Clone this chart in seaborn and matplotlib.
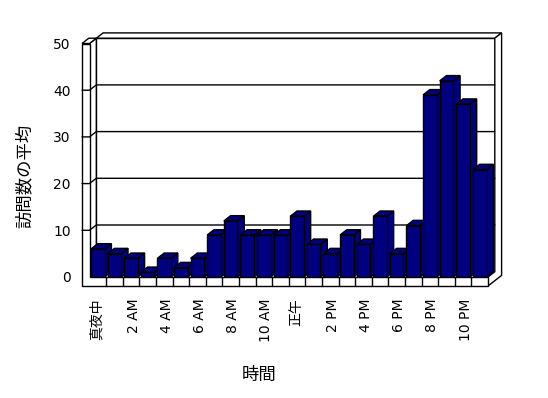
import matplotlib
matplotlib.use("Agg")
import matplotlib.pyplot as plt
import seaborn as sns
import pandas as pd
from matplotlib.patches import Polygon, Rectangle
from matplotlib.lines import Line2D
from matplotlib.transforms import ScaledTranslation

# ---- data ----
hours = ["真夜中", "1 AM", "2 AM", "3 AM", "4 AM", "5 AM", "6 AM", "7 AM",
         "8 AM", "9 AM", "10 AM", "11 AM", "正午", "1 PM", "2 PM", "3 PM",
         "4 PM", "5 PM", "6 PM", "7 PM", "8 PM", "9 PM", "10 PM", "11 PM"]
visits = [6, 5, 4, 1, 4, 2, 4, 9, 12, 9, 9, 9, 13, 7, 5, 9, 7, 13, 5, 11, 39, 42, 37, 23]
tick_labels = ["真夜中", "2 AM", "4 AM", "6 AM", "8 AM", "10 AM",
               "正午", "2 PM", "4 PM", "6 PM", "8 PM", "10 PM"]
y_ticks = [0, 10, 20, 30, 40, 50]
x_title = "時間"
y_title = "訪問数の平均"

sns.set_theme(style="white")
plt.rcParams["font.family"] = ["DejaVu Sans", "Noto Sans CJK JP"]

W_PX, H_PX = 548, 398
fig = plt.figure(figsize=(W_PX / 100, H_PX / 100), dpi=100)
fig.patch.set_facecolor("white")
ax_l, ax_r, ax_b, ax_t = 89.5, 488.0, 277.0, 43.5
ax = fig.add_axes([ax_l / W_PX, 1 - ax_b / H_PX, (ax_r - ax_l) / W_PX, (ax_b - ax_t) / H_PX])

df = pd.DataFrame({"hour": hours, "visits": visits})
NAVY = "#000080"
sns.barplot(data=df, x="hour", y="visits", order=hours, color=NAVY, saturation=1,
            width=0.82, edgecolor="black", linewidth=1, ax=ax)

L, R, TOP = -0.5, len(hours) - 0.5, 50
ax.set_xlim(L, R)
ax.set_ylim(0, TOP)

# depth offsets in data units
sx = (ax_r - ax_l) / len(hours)
sy = (ax_b - ax_t) / TOP
DX = 6.8 / sx
DY = 5.3 / sy
W = 7.5 / sx
T = 9.0 / sy

lw = 1.0
kw = dict(edgecolor="black", linewidth=lw, clip_on=False, joinstyle="miter")

# back wall inner face
ax.add_patch(Rectangle((L + DX, DY), R - L, TOP, facecolor="white", zorder=0.2, **kw))
# left wall inner face
ax.add_patch(Polygon([(L, 0), (L, TOP), (L + DX, TOP + DY), (L + DX, DY)],
                     facecolor="white", zorder=0.2, **kw))
# back wall top
ax.add_patch(Polygon([(L + DX, TOP + DY), (R + DX, TOP + DY), (R + 2 * DX, TOP + 2 * DY),
                      (L + 2 * DX, TOP + 2 * DY)], facecolor="white", zorder=0.25, **kw))
# left wall top
ax.add_patch(Polygon([(L - W, TOP), (L, TOP), (L + DX, TOP + DY), (L - W + DX, TOP + DY)],
                     facecolor="white", zorder=0.26, **kw))
# right side outline (floor + back wall)
ax.add_patch(Polygon([(R, 0), (R, -T), (R + 2 * DX, 2 * DY - T), (R + 2 * DX, TOP + 2 * DY),
                      (R + DX, TOP + DY), (R + DX, DY)], facecolor="white", zorder=0.25, **kw))
# left wall front + floor front (L-shape)
ax.add_patch(Polygon([(L - W, TOP), (L - W, -T), (R, -T), (R, 0), (L, 0), (L, TOP)],
                     facecolor="white", zorder=0.3, **kw))
# floor category separators
for i in range(len(hours) - 1):
    ax.add_line(Line2D([i + 0.5, i + 0.5], [-T, 0], color="black", lw=lw, clip_on=False, zorder=0.35))

# gridlines
for v in y_ticks[1:-1]:
    ax.add_line(Line2D([L - W, L, L + DX, R + DX], [v, v, v + DY, v + DY],
                       color="black", lw=lw, clip_on=False, zorder=0.4))

# 3D bars: top and side faces for every bar drawn by seaborn
bars = list(ax.containers[0])
for i, p in enumerate(bars):
    x0, w, h = p.get_x(), p.get_width(), p.get_height()
    base = 2 + i * 0.01
    p.set_zorder(base + 0.005)
    p.set_joinstyle("miter")
    top = Polygon([(x0, h), (x0 + w, h), (x0 + w + DX, h + DY), (x0 + DX, h + DY)],
                  facecolor=NAVY, zorder=base, **kw)
    side = Polygon([(x0 + w, 0), (x0 + w, h), (x0 + w + DX, h + DY), (x0 + w + DX, DY)],
                   facecolor=NAVY, zorder=base, **kw)
    ax.add_patch(side)
    ax.add_patch(top)

# axes styling
for s in ax.spines.values():
    s.set_visible(False)
ax.set_facecolor("none")
ax.grid(False)
ax.set_yticks(y_ticks)
ax.set_yticklabels([str(v) for v in y_ticks], fontsize=10)
ax.set_xticks(list(range(0, len(hours), 2)))
ax.set_xticklabels(tick_labels, rotation=90, fontsize=10)
ax.tick_params(axis="y", length=0, pad=13.5, colors="black")
ax.tick_params(axis="x", length=0, pad=15.5, colors="black")
for lab in ax.get_xticklabels():
    txt = lab.get_text()
    is_latin = all(ord(c) < 128 for c in txt)
    shift = 2.5 if is_latin else -1.0
    lab.set_transform(lab.get_transform() + ScaledTranslation(shift / 100, 0, fig.dpi_scale_trans))

ax.set_xlabel(x_title, fontsize=12.5, color="black")
ax.set_ylabel(y_title, fontsize=12.5, color="black")
ax.xaxis.set_label_coords((259 - ax_l) / (ax_r - ax_l), (ax_b - 375) / (ax_b - ax_t))
ax.yaxis.set_label_coords((25 - ax_l) / (ax_r - ax_l), (ax_b - 176) / (ax_b - ax_t))
ax.xaxis.label.set_va("center")
ax.yaxis.label.set_va("center")

fig.savefig("out.png", dpi=100, facecolor="white")
